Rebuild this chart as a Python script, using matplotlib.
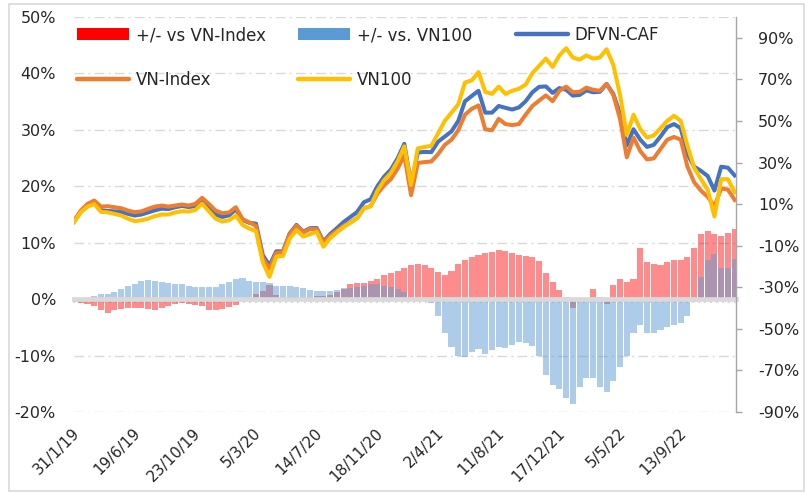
import matplotlib
matplotlib.use('Agg')
import matplotlib.pyplot as plt
from matplotlib.patches import Patch, Rectangle
from matplotlib.lines import Line2D
from matplotlib.ticker import MultipleLocator, FuncFormatter
import matplotlib.transforms as mtransforms

plt.rcParams['font.family'] = ['DejaVu Sans']

# trading-day index of each sample (category axis)
day = list(range(0, 990, 10))

date_labels = ['31/1/19', '19/6/19', '23/10/19', '5/3/20', '14/7/20', '18/11/20',
               '2/4/21', '11/8/21', '17/12/21', '5/5/22', '13/9/22']
label_days = [0, 90, 180, 270, 360, 450, 540, 630, 720, 810, 900]

# cumulative performance (%), right axis
dfvn = [1.5, 6.3, 9.3, 10.5, 7.0, 6.7, 6.5, 6.3, 5.3, 4.5,
        5.0, 6.0, 7.0, 7.8, 7.6, 8.5, 9.1, 8.6, 9.1, 11.8,
        8.3, 5.0, 3.8, 4.6, 7.5, 2.4, 1.0, 0.6, -14.5, -19.5,
        -12.7, -12.7, -4.1, 0.0, -3.3, -1.6, -1.5, -8.0, -4.4, -1.6,
        1.4, 3.8, 6.2, 10.9, 12.3, 18.6, 23.2, 26.6, 32.0, 39.0,
        19.8, 34.8, 35.1, 35.0, 40.0, 42.5, 45.0, 50.0, 59.5, 62.0,
        64.5, 54.0, 54.0, 57.2, 56.3, 55.5, 56.5, 59.5, 63.8, 66.4,
        66.6, 63.5, 65.8, 65.0, 62.2, 62.5, 64.7, 63.8, 64.0, 67.8,
        63.0, 53.5, 38.3, 46.0, 41.0, 37.5, 38.5, 42.5, 47.0, 48.5,
        46.5, 34.0, 28.0, 26.0, 23.5, 16.5, 28.0, 27.5, 23.8]

vnindex = [2.0, 6.9, 10.1, 11.7, 8.8, 9.0, 8.5, 8.0, 6.9, 6.1,
           6.5, 7.7, 8.8, 9.3, 8.8, 9.3, 9.8, 9.3, 10.1, 13.0,
           10.1, 6.9, 5.6, 6.0, 8.5, 2.8, 1.2, -0.4, -16.0, -21.0,
           -13.5, -13.0, -4.4, -0.4, -3.6, -2.0, -2.0, -8.5, -5.2, -2.8,
           -0.4, 1.2, 3.3, 8.0, 9.0, 15.0, 19.0, 22.0, 27.0, 33.5,
           14.3, 29.8, 30.2, 30.5, 34.0, 38.5, 41.0, 45.5, 53.0, 55.8,
           57.5, 46.0, 45.5, 51.0, 48.5, 48.0, 48.5, 53.0, 57.2, 59.8,
           62.3, 59.5, 64.5, 66.5, 63.8, 64.0, 66.0, 65.0, 64.5, 67.8,
           62.5, 51.0, 32.5, 42.0, 35.5, 31.5, 32.0, 36.5, 41.0, 42.3,
           41.0, 28.0, 20.5, 16.5, 13.5, 9.0, 17.5, 17.0, 12.0]

vn100 = [1.3, 6.1, 8.8, 10.0, 6.3, 6.0, 5.3, 4.5, 3.0, 1.8,
         2.2, 3.0, 4.2, 5.0, 5.0, 6.0, 6.6, 6.4, 7.2, 10.2,
         6.6, 3.0, 1.6, 2.2, 4.5, 0.0, -1.8, -3.0, -18.0, -25.0,
         -15.3, -14.9, -6.6, -2.5, -5.6, -4.5, -3.3, -10.5, -6.4, -3.6,
         -1.0, 1.0, 3.3, 8.0, 9.0, 16.4, 21.5, 25.0, 30.6, 37.8,
         19.2, 36.8, 37.5, 38.0, 44.0, 50.0, 54.0, 58.0, 68.5, 69.5,
         73.5, 64.0, 63.0, 66.5, 63.0, 64.5, 65.5, 67.5, 73.0, 76.5,
         80.0, 76.0, 81.5, 85.0, 80.5, 79.5, 81.5, 80.0, 80.5, 84.5,
         77.0, 62.5, 43.2, 53.0, 46.0, 42.0, 43.0, 46.5, 50.0, 52.5,
         50.0, 38.0, 27.5, 22.0, 17.0, 4.0, 22.0, 22.0, 15.7]

# out-/under-performance (%), left axis
diff_vnindex = [-0.5, -0.6, -0.8, -1.2, -1.9, -2.4, -2.0, -1.7, -1.6, -1.6,
                -1.6, -1.8, -2.0, -1.5, -1.2, -0.8, -0.7, -0.8, -1.0, -1.2,
                -1.9, -1.9, -1.8, -1.4, -1.0, -0.4, -0.2, 1.0, 1.5, 2.5,
                0.8, 0.3, 0.3, 0.4, 0.3, 0.4, 0.5, 0.5, 0.8, 1.2,
                1.8, 2.6, 2.9, 2.9, 3.3, 3.6, 4.2, 4.6, 5.0, 5.6,
                6.0, 6.2, 6.0, 5.5, 4.8, 4.2, 5.0, 6.2, 7.0, 7.5,
                7.9, 8.2, 8.4, 8.7, 8.5, 8.1, 7.8, 7.7, 7.4, 6.8,
                4.6, 3.1, 1.6, 0.3, -1.5, -0.3, 0.2, 1.8, 0.3, -0.8,
                2.5, 3.5, 3.0, 3.5, 9.0, 6.5, 6.2, 6.0, 6.5, 7.0,
                7.0, 7.5, 9.0, 11.5, 12.0, 11.5, 11.2, 11.8, 12.4]

diff_vn100 = [0.0, 0.1, 0.2, 0.5, 0.9, 1.0, 1.3, 1.8, 2.4, 2.7,
              3.2, 3.4, 3.3, 3.0, 2.9, 2.6, 2.6, 2.4, 2.2, 2.1,
              2.1, 2.2, 2.6, 3.0, 3.6, 3.7, 3.2, 3.0, 3.0, 2.8,
              2.4, 2.3, 2.3, 2.2, 2.0, 1.6, 1.5, 1.5, 1.4, 1.6,
              1.9, 2.0, 2.1, 2.3, 2.6, 2.6, 2.4, 2.2, 1.8, 1.2,
              0.3, -0.2, -0.3, -0.6, -3.0, -6.0, -8.5, -10.0, -10.2, -9.3,
              -8.8, -9.8, -9.0, -8.5, -8.7, -8.2, -7.6, -7.8, -8.3, -10.0,
              -13.5, -15.3, -16.0, -17.5, -18.5, -15.5, -14.0, -14.0, -15.5, -16.5,
              -14.5, -12.0, -10.0, -6.0, -4.5, -6.0, -6.0, -5.5, -5.0, -4.5,
              -4.2, -3.0, -0.5, 4.0, 7.0, 8.0, 5.5, 5.5, 7.2]

W, H = 808, 493
fig = plt.figure(figsize=(W / 100, H / 100), dpi=100)
fig.patch.set_facecolor('white')
fig.patches.append(Rectangle((9 / W, 2 / H), (804 - 9) / W, (489 - 2) / H,
                             transform=fig.transFigure, fill=False,
                             edgecolor='#D9D9D9', linewidth=1.2))

ax = fig.add_axes([74 / W, 1 - 412 / H, (736 - 74) / W, (412 - 17) / H])
ax2 = ax.twinx()

RED = '#FF0000'
BLUE_BAR = '#5B9BD5'
C_DFVN = '#4472C4'
C_VNI = '#ED7D31'
C_VN100 = '#FFC000'
GRID = '#D9D9D9'
TXT = '#262626'

ax.bar(day, diff_vnindex, width=9, color=RED, alpha=0.45, linewidth=0, zorder=1)
ax.bar(day, diff_vn100, width=9, color=BLUE_BAR, alpha=0.5, linewidth=0, zorder=1)

ax.set_xlim(0, 982)
ax.set_ylim(-20, 50)
ax.set_yticks(range(-20, 51, 10))
pct = FuncFormatter(lambda v, p: f'{v:.0f}%')
ax.yaxis.set_major_formatter(pct)
ax.yaxis.grid(True, color=GRID, linewidth=1.0, linestyle=(0, (7, 3, 1.5, 3)))
ax.set_axisbelow(True)
for s in ['left', 'top', 'right']:
    ax.spines[s].set_visible(False)
ax.spines['bottom'].set_position(('data', 0))
ax.spines['bottom'].set_color(GRID)
ax.spines['bottom'].set_linewidth(3.4)
ax.spines['bottom'].set_zorder(3)
ax.set_xticks(label_days)
ax.xaxis.set_minor_locator(MultipleLocator(9))
ax.tick_params(axis='x', which='both', direction='out', length=3.2, width=1.6,
               color=GRID, labelbottom=False)
ax.tick_params(axis='y', length=0, pad=13, labelsize=11.5, labelcolor=TXT)

# date labels placed at the bottom of the plot
sec = ax.secondary_xaxis('bottom')
sec.spines['bottom'].set_visible(False)
sec.set_xticks(label_days, date_labels)
sec.tick_params(length=0, pad=13.5, labelsize=11, labelcolor=TXT)
off = mtransforms.ScaledTranslation(3 / 100, 0, fig.dpi_scale_trans)
for lab in sec.get_xticklabels():
    lab.set_rotation(45)
    lab.set_ha('right')
    lab.set_va('center')
    lab.set_rotation_mode('anchor')
    lab.set_transform(lab.get_transform() + off)

# cumulative lines on the right axis
lw = 2.9
ax2.plot(day, dfvn, color=C_DFVN, lw=lw, solid_joinstyle='round', zorder=3)
ax2.plot(day, vnindex, color=C_VNI, lw=lw, solid_joinstyle='round', zorder=4)
ax2.plot(day, vn100, color=C_VN100, lw=lw, solid_joinstyle='round', zorder=5)
ax2.set_ylim(-90, 100)
ax2.set_yticks(range(-90, 91, 20))
ax2.yaxis.set_major_formatter(pct)
for s in ['left', 'top', 'bottom']:
    ax2.spines[s].set_visible(False)
ax2.spines['right'].set_color('#A6A6A6')
ax2.spines['right'].set_linewidth(1.0)
ax2.tick_params(axis='y', direction='out', length=4, width=1, color='#A6A6A6',
                pad=12, labelsize=11.5, labelcolor=TXT)

# legend (three columns, Excel-like)
fs = 12
common = dict(frameon=False, fontsize=fs, handlelength=3.1, handletextpad=0.42,
              borderpad=0, borderaxespad=0, labelspacing=1.63, loc='upper left',
              bbox_transform=fig.transFigure, labelcolor=TXT)
h_red = Patch(facecolor=RED, edgecolor='none')
h_blue = Patch(facecolor=BLUE_BAR, edgecolor='none')
h_dfvn = Line2D([], [], color=C_DFVN, lw=3.2, solid_capstyle='round')
h_vni = Line2D([], [], color=C_VNI, lw=3.2, solid_capstyle='round')
h_vn100 = Line2D([], [], color=C_VN100, lw=3.2, solid_capstyle='round')
top = 1 - 26 / H
fig.legend([h_red, h_vni], ['+/- vs VN-Index', 'VN-Index'],
           bbox_to_anchor=(77 / W, top), **common)
fig.legend([h_blue, h_vn100], ['+/- vs. VN100', 'VN100'],
           bbox_to_anchor=(298 / W, top), **common)
fig.legend([h_dfvn], ['DFVN-CAF'], bbox_to_anchor=(516 / W, top), **common)

fig.savefig('out.png', dpi=100)
